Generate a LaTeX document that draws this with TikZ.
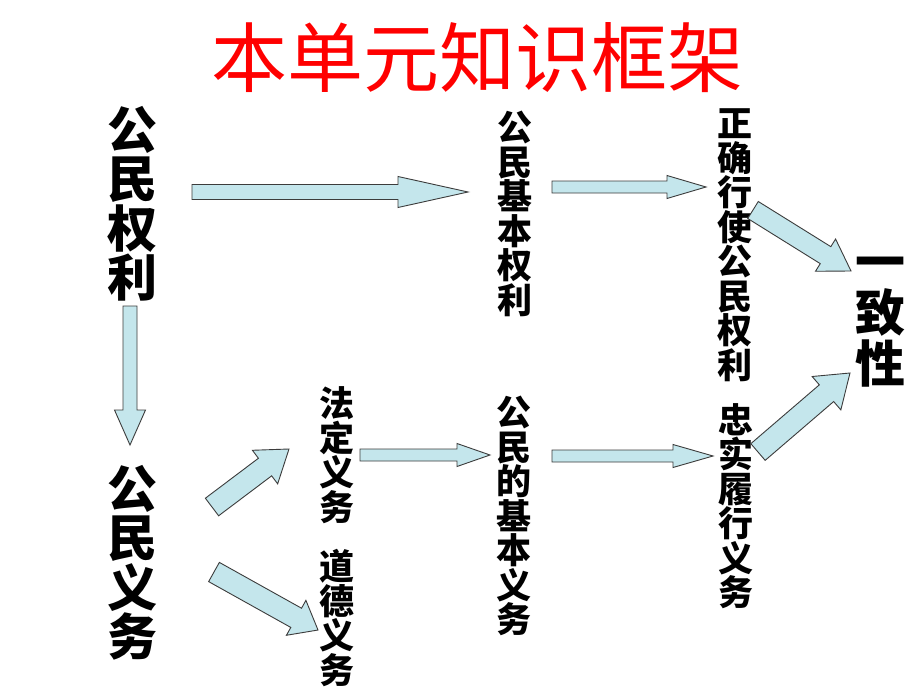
\documentclass[tikz,border=0pt]{standalone}
\usepackage{fontspec}
\newfontfamily\cjk{Noto Sans CJK SC}
\usetikzlibrary{calc}
\definecolor{arrowfill}{RGB}{196,230,236}
\definecolor{arrowline}{RGB}{60,60,60}
\tikzset{
  blockarrow/.style={fill=arrowfill, draw=arrowline, line width=0.9pt, line join=miter},
  bigtxt/.style={font=\cjk\bfseries\fontsize{50}{49.5}\selectfont, align=center, inner sep=0pt},
  midtxt/.style={font=\cjk\bfseries\fontsize{35}{34.5}\selectfont, align=center, inner sep=0pt},
  sidetxt/.style={font=\cjk\bfseries\fontsize{50}{51}\selectfont, align=center, inner sep=0pt},
  titletxt/.style={font=\cjk\fontsize{76}{76}\selectfont, text=red, inner sep=0pt},
}
\newcommand{\barrow}[5]{%
  \coordinate (bA) at (#1);
  \coordinate (bB) at (#2);
  \coordinate (bC) at ($(bB)!#5pt!(bA)$);
  \path[blockarrow] ($(bA)!#3pt!90:(bB)$) -- ($(bC)!#3pt!90:(bB)$) -- ($(bC)!#4pt!90:(bB)$) -- (bB)
    -- ($(bC)!#4pt!-90:(bB)$) -- ($(bC)!#3pt!-90:(bB)$) -- ($(bA)!#3pt!-90:(bB)$) -- cycle;
}
\begin{document}
\begin{tikzpicture}[x=1pt,y=-1pt]
\fill[white] (0,0) rectangle (920,690);
\useasboundingbox (0,0) rectangle (920,690);

\node[titletxt] (title) at (477,58) {本单元知识框架};

\node[bigtxt] (gmql) at (132,204) {公\\民\\权\\利};
\node[bigtxt] (gmyw) at (132,563) {公\\民\\义\\务};
\node[midtxt] (jbql) at (515,214) {公\\民\\基\\本\\权\\利};
\node[midtxt] (zqxs) at (735,245) {正\\确\\行\\使\\公\\民\\权\\利};
\node[midtxt] (fdyw) at (337,455) {法\\定\\义\\务};
\node[midtxt] (ddyw) at (337,618) {道\\德\\义\\务};
\node[midtxt] (jbyw) at (514,516) {公\\民\\的\\基\\本\\义\\务};
\node[midtxt] (zslx) at (736,506) {忠\\实\\履\\行\\义\\务};
\node[sidetxt] (yzx) at (880,322) {一\\致\\性};

\coordinate (a1s) at (192,192); \coordinate (a1e) at (468,192);
\coordinate (a2s) at (552,187); \coordinate (a2e) at (706,187);
\coordinate (a3s) at (360,455); \coordinate (a3e) at (490,455);
\coordinate (a4s) at (552,456); \coordinate (a4e) at (713,456);
\coordinate (ads) at (130,306); \coordinate (ade) at (130,445);
\coordinate (trs) at (753,210); \coordinate (tre) at (851,271);
\coordinate (brs) at (758,452); \coordinate (bre) at (850,373);
\coordinate (uls) at (212,507); \coordinate (ule) at (289,449);
\coordinate (lls) at (214,572); \coordinate (lle) at (318,630);

\barrow{a1s}{a1e}{7.5}{15.5}{70}
\barrow{a2s}{a2e}{6}{11.5}{39}
\barrow{a3s}{a3e}{6}{11.5}{33}
\barrow{a4s}{a4e}{6}{11.5}{40}
\barrow{ads}{ade}{7}{15.5}{35}
\barrow{trs}{tre}{10}{19}{30}
\barrow{brs}{bre}{11}{22}{31}
\barrow{uls}{ule}{11}{21}{30}
\barrow{lls}{lle}{11}{20}{25}
\end{tikzpicture}
\end{document}
